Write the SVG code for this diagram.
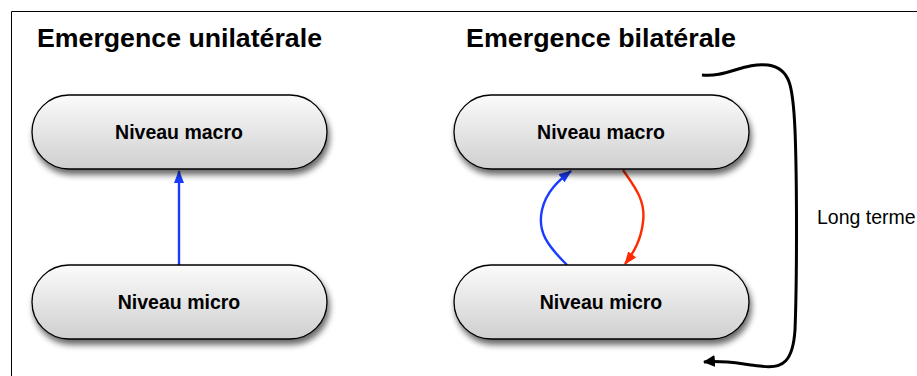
<svg xmlns="http://www.w3.org/2000/svg" width="917" height="376" viewBox="0 0 917 376">
<style>
.title{font-family:"Liberation Sans",Arial,sans-serif;font-weight:bold;font-size:26px;fill:#000}
.lbl{font-family:"Liberation Sans",Arial,sans-serif;font-weight:bold;font-size:19.5px;fill:#000;text-anchor:middle}
.pill{fill:url(#g);stroke:#000;stroke-width:1.3;filter:url(#sh)}
.conn{fill:none;stroke-width:2.4}
</style>
<defs>
<linearGradient id="g" x1="0" y1="0" x2="0" y2="1">
<stop offset="0" stop-color="#fbfbfb"/>
<stop offset="1" stop-color="#cfcfcf"/>
</linearGradient>
<filter id="sh" x="-10%" y="-20%" width="125%" height="160%">
<feGaussianBlur in="SourceAlpha" stdDeviation="3"/>
<feOffset dx="2" dy="5" result="o"/>
<feComponentTransfer><feFuncA type="linear" slope="0.6"/></feComponentTransfer>
<feMerge><feMergeNode/><feMergeNode in="SourceGraphic"/></feMerge>
</filter>
<marker id="ab" markerWidth="14" markerHeight="12" refX="12" refY="6" orient="auto" markerUnits="userSpaceOnUse"><path d="M0,1 L13,6 L0,11 Z" fill="#1a3cff"/></marker>
<marker id="ar" markerWidth="14" markerHeight="12" refX="12" refY="6" orient="auto" markerUnits="userSpaceOnUse"><path d="M0,1 L13,6 L0,11 Z" fill="#ff2a00"/></marker>
<marker id="ak" markerWidth="14" markerHeight="14" refX="11" refY="7" orient="auto" markerUnits="userSpaceOnUse"><path d="M0,1 L12,7 L0,13 Z" fill="#000"/></marker>
</defs>
<rect width="917" height="376" fill="#fff"/>
<path d="M11.5,376 V11.5 H917" fill="none" stroke="#000" stroke-width="1"/>
<text class="title" x="37" y="47" textLength="285" lengthAdjust="spacingAndGlyphs">Emergence unilatérale</text>
<text class="title" x="466" y="47" textLength="270" lengthAdjust="spacingAndGlyphs">Emergence bilatérale</text>
<g id="connectors">
<path class="conn" stroke="#1a3cff" d="M179,265 V171" marker-end="url(#ab)"/>
<path class="conn" stroke="#1a3cff" d="M567,265 C548,246 537,232 542,210 C546,192 558,181 571,171" marker-end="url(#ab)"/>
<path class="conn" stroke="#ff2a00" d="M623,170 C634,186 646,200 643,222 C641,240 634,252 625,264" marker-end="url(#ar)"/>
<path fill="none" stroke="#000" stroke-width="3" d="M702,75 C725,78 745,62 768,65 C790,68 793,85 795,130 C797,180 797,280 795,330 C793,360 784,370 760,366 C740,364 725,360 704,362" marker-end="url(#ak)"/>
</g>
<g id="macro-left"><rect class="pill" x="32" y="95" width="295" height="74" rx="37"/><text class="lbl" x="179" y="138.5">Niveau macro</text></g>
<g id="micro-left"><rect class="pill" x="32" y="265" width="295" height="74" rx="37"/><text class="lbl" x="179" y="308.5">Niveau micro</text></g>
<g id="macro-right"><rect class="pill" x="454" y="95" width="295" height="74" rx="37"/><text class="lbl" x="601" y="138.5">Niveau macro</text></g>
<g id="micro-right"><rect class="pill" x="454" y="265" width="295" height="74" rx="37"/><text class="lbl" x="601" y="308.5">Niveau micro</text></g>
<text x="817" y="224" font-family="Liberation Sans, Arial, sans-serif" font-size="19.5">Long terme</text>
</svg>
